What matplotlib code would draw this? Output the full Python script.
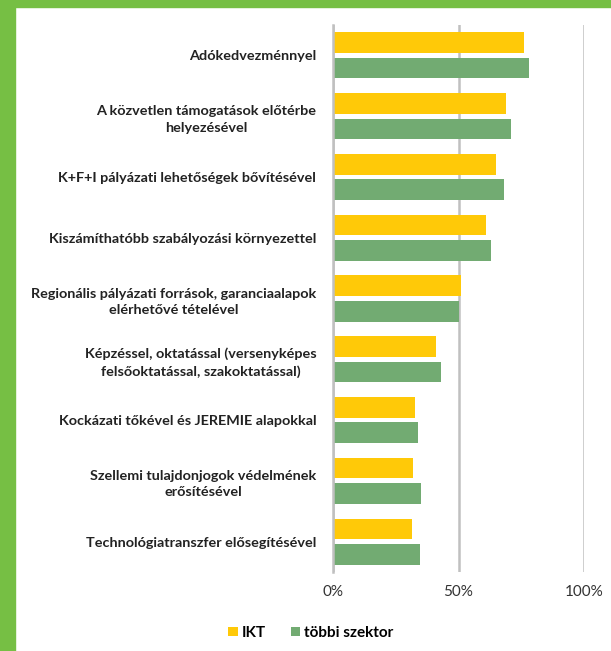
import numpy as np
import matplotlib
matplotlib.use('Agg')
import matplotlib.pyplot as plt
from matplotlib.patches import Rectangle

# Data (share of respondents, %)
categories = [
    'Adókedvezménnyel',
    'A közvetlen támogatások előtérbe\nhelyezésével',
    'K+F+I pályázati lehetőségek bővítésével',
    'Kiszámíthatóbb szabályozási környezettel',
    'Regionális pályázati források, garanciaalapok\nelérhetővé tételével',
    'Képzéssel, oktatással (versenyképes\nfelsőoktatással, szakoktatással)',
    'Kockázati tőkével és JEREMIE alapokkal',
    'Szellemi tulajdonjogok védelmének\nerősítésével',
    'Technológiatranszfer elősegítésével',
]
ikt = [76, 69, 65, 61, 51, 41, 32.5, 32, 31.5]
tobbi = [78, 71, 68, 63, 50, 43, 34, 35, 34.5]
series_names = ['IKT', 'többi szektor']
xticks = [0, 50, 100]

YELLOW = '#FFC908'
GREEN = '#72AB72'
BORDER = '#76BF44'
GRID = '#C0C0C0'

plt.rcParams['font.family'] = ['Lato', 'DejaVu Sans']

fig = plt.figure(figsize=(6.11, 6.51), dpi=100)
ax = fig.add_axes([333 / 611, 1 - 572 / 651, (584 - 333) / 611, (572 - 25) / 651])

y = np.arange(len(categories))
h = 0.34
off = 0.21
ax.barh(y - off, ikt, height=h, color=YELLOW, label=series_names[0], zorder=3)
ax.barh(y + off, tobbi, height=h, color=GREEN, label=series_names[1], zorder=3)

ax.set_ylim(len(categories) - 0.5, -0.5)
ax.set_xlim(0, 100)
ax.set_yticks(y)
ax.set_yticklabels(categories, fontsize=10.4, fontweight='bold', color='#222222',
                   multialignment='center', linespacing=1.45)
ax.tick_params(axis='y', length=0, pad=12)
ax.set_xticks(xticks)
ax.set_xticklabels([f'{t}%' for t in xticks], fontsize=11, color='#333333')
ax.tick_params(axis='x', length=0, pad=9)
ax.xaxis.grid(True, color=GRID, linewidth=1.8, zorder=0)
for s in ['top', 'right', 'bottom']:
    ax.spines[s].set_visible(False)
ax.spines['left'].set_color(GRID)
ax.spines['left'].set_linewidth(1.8)
ax.spines['left'].set_zorder(4)

fig.legend(loc='center', bbox_to_anchor=(311 / 611, 1 - 633 / 651), ncol=2,
           frameon=False, handlelength=0.6, handleheight=0.6,
           handletextpad=0.3, columnspacing=1.6,
           prop={'weight': 'bold', 'size': 11})

# green frame on the top and left edges
fig.patches.append(Rectangle((0, 1 - 7 / 651), 1, 7 / 651, transform=fig.transFigure,
                             color=BORDER, zorder=10))
fig.patches.append(Rectangle((0, 0), 15 / 611, 1, transform=fig.transFigure,
                             color=BORDER, zorder=10))

fig.savefig('out.png', dpi=100)
